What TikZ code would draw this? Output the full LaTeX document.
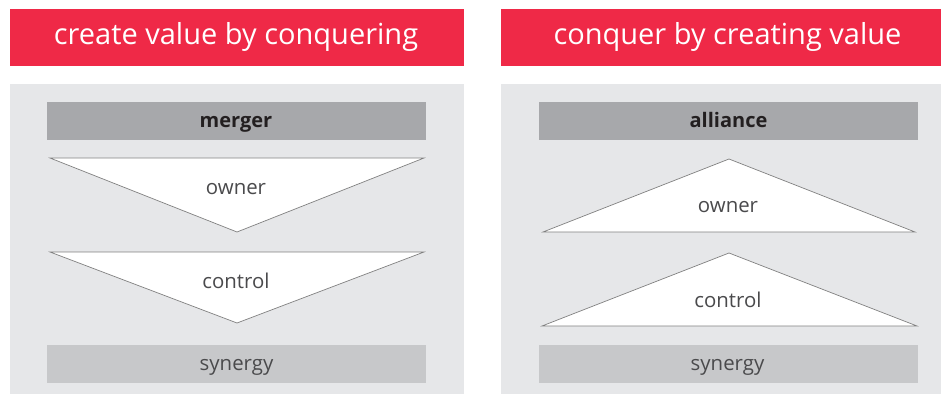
\documentclass[tikz,border=0pt]{standalone}
\usepackage{fontspec}
\setmainfont{Open Sans}
\begin{document}
\begin{tikzpicture}[x=1pt,y=-1pt,
  banner/.style={fill=bannerred,draw=none},
  panel/.style={fill=panelgray,draw=none},
  titletext/.style={text=white,font=\fontsize{29}{34}\selectfont,inner sep=0pt,anchor=base},
  headbar/.style={fill=headgray,draw=none},
  basebar/.style={fill=basegray,draw=none},
  tri/.style={fill=white,draw=tristroke,line width=0.7pt,line join=miter},
  headtext/.style={font=\fontsize{20}{24}\selectfont\bfseries,text=textdark,inner sep=0pt,anchor=base},
  bodytext/.style={font=\fontsize{20.4}{24}\selectfont,text=textmid,inner sep=0pt,anchor=base}]
\definecolor{bannerred}{HTML}{EF2947}
\definecolor{panelgray}{HTML}{E6E7E9}
\definecolor{headgray}{HTML}{A7A8AB}
\definecolor{basegray}{HTML}{C7C8CA}
\definecolor{tristroke}{HTML}{808080}
\definecolor{textdark}{HTML}{231F20}
\definecolor{textmid}{HTML}{4A4A4C}
\useasboundingbox (0,0) rectangle (941,395);
\fill[white] (0,0) rectangle (941,395);

% left column: merger
\path[banner] (10,9) rectangle (464,66);
\node[titletext] (ltitle) at (236,45) {create value by conquering};
\path[panel] (10,84) rectangle (464,394);
\path[headbar] (47,102) rectangle (426,140);
\node[headtext] (merger) at (236,127.3) {merger};
\draw[tri] (50,158) -- (424,158) -- (237,232) -- cycle;
\node[bodytext] (lowner) at (236,195) {owner};
\draw[tri] (50,252) -- (424,252) -- (237,323) -- cycle;
\node[bodytext] (lcontrol) at (236,288.3) {control};
\path[basebar] (47,345) rectangle (426,383);
\node[bodytext] (lsyn) at (236.5,370) {synergy};

% right column: alliance
\path[banner] (501,9) rectangle (941,66);
\node[titletext] (rtitle) at (727.5,45) {conquer by creating value};
\path[panel] (501,84) rectangle (941,394);
\path[headbar] (539,102) rectangle (918,140);
\node[headtext] (alliance) at (728.5,127.3) {alliance};
\draw[tri] (543,232) -- (915,232) -- (729,159) -- cycle;
\node[bodytext] (rowner) at (728,212.3) {owner};
\draw[tri] (542,326) -- (917,326) -- (729,253) -- cycle;
\node[bodytext] (rcontrol) at (728,307.3) {control};
\path[basebar] (539,345) rectangle (918,383);
\node[bodytext] (rsyn) at (727.5,370) {synergy};
\end{tikzpicture}
\end{document}
